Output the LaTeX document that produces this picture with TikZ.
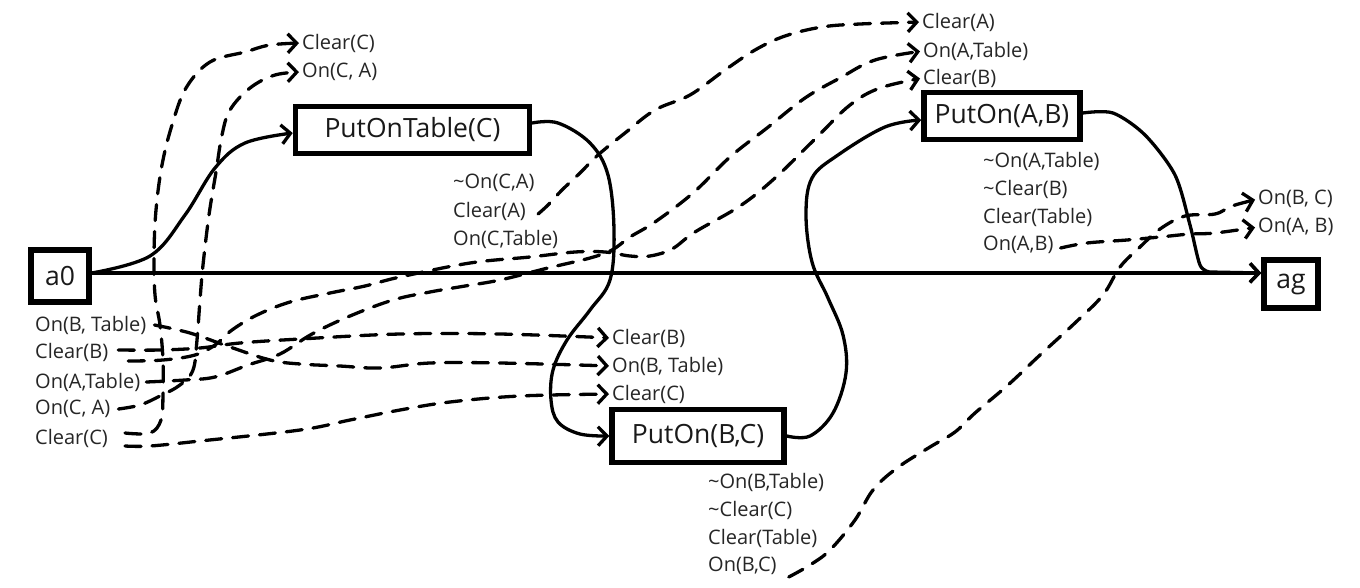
\documentclass[tikz,border=0pt]{standalone}
\usepackage{fontspec}
\setmainfont{Open Sans}
\usetikzlibrary{arrows.meta}
\tikzset{
  box/.style={draw, line width=5.5pt, inner sep=0pt, font=\fontsize{26.5}{30}\selectfont, text=black!90},
  lbl/.style={anchor=west, inner sep=0pt, font=\fontsize{20}{24}\selectfont, text=black!85},
  link/.style={line width=3.3pt, line cap=round, line join=round, -{Straight Barb[length=9pt,width=19pt,line width=3.3pt]}},
  dep/.style={link, dash pattern=on 16pt off 11pt, shorten >=3pt},
}
\begin{document}
\begin{tikzpicture}[x=1pt,y=-1pt]
\useasboundingbox[fill=white] (0,0) rectangle (1360,587);
\coordinate (mainy) at (0,273);
% action boxes
\node[box, minimum width=58pt, minimum height=52pt] (a0) at (60,276) {a0};
\node[box, minimum width=234pt, minimum height=47pt] (ptable) at (412.5,130) {PutOnTable(C)};
\node[box, minimum width=172pt, minimum height=53pt] (pbc) at (698,436) {PutOn(B,C)};
\node[box, minimum width=156pt, minimum height=47pt] (pab) at (1002,116) {PutOn(A,B)};
\node[box, minimum width=54pt, minimum height=48pt] (ag) at (1291,284) {ag};
% a0 effects
\node[lbl] (a0onBT) at (35,325) {On(B, Table)};
\node[lbl] (a0clrB) at (35,352) {Clear(B)};
\node[lbl] (a0onAT) at (35,382) {On(A,Table)};
\node[lbl] (a0onCA) at (35,409) {On(C, A)};
\node[lbl] (a0clrC) at (35,438) {Clear(C)};
% PutOnTable(C) preconditions / effects
\node[lbl] (tclrC) at (302,43) {Clear(C)};
\node[lbl] (tonCA) at (302,72) {On(C, A)};
\node[lbl] (ponCA) at (453,183) {\textasciitilde On(C,A)};
\node[lbl] (pclrA) at (453,211) {Clear(A)};
\node[lbl] (ponCT) at (453,239) {On(C,Table)};
% PutOn(A,B) preconditions / effects
\node[lbl] (tclrA) at (922,22) {Clear(A)};
\node[lbl] (tonAT) at (923,51) {On(A,Table)};
\node[lbl] (tclrB) at (923,78) {Clear(B)};
\node[lbl] (pabonAT) at (983,161) {\textasciitilde On(A,Table)};
\node[lbl] (pabclrB) at (983,189) {\textasciitilde Clear(B)};
\node[lbl] (pabclrT) at (983,217) {Clear(Table)};
\node[lbl] (pabonAB) at (983,245) {On(A,B)};
% PutOn(B,C) preconditions / effects
\node[lbl] (bcclrB) at (612,338) {Clear(B)};
\node[lbl] (bconBT) at (612,366) {On(B, Table)};
\node[lbl] (bcclrC) at (612,394) {Clear(C)};
\node[lbl] (bcnonBT) at (708,482) {\textasciitilde On(B,Table)};
\node[lbl] (bcnclrC) at (708,510) {\textasciitilde Clear(C)};
\node[lbl] (bcclrT) at (708,538) {Clear(Table)};
\node[lbl] (bconBC) at (708,566) {On(B,C)};
% goal preconditions
\node[lbl] (ronBC) at (1258,199) {On(B, C)};
\node[lbl] (ronAB) at (1258,227) {On(A, B)};
% solid connectors
\draw[link] (a0.east |- mainy) -- (ag.west |- mainy);
\draw[link] plot[smooth,tension=0.6] coordinates {(a0.east |- mainy) (150,256) (185,215) (215,168) (245,143) ([yshift=-3pt]ptable.west)};
\draw[link] plot[smooth,tension=0.6] coordinates {([yshift=7pt]ptable.east) (558,123) (590,143) (608,175) (614,230) (610,280) (590,310) (567,340) (553,370) (551,400) (558,422) (580,434) (pbc.west)};
\draw[link] plot[smooth,tension=0.6] coordinates {(pbc.east) (810,436) (833,413) (846,373) (843,335) (828,298) (812,262) (806,215) (812,178) (838,155) (885,127) ([yshift=-4pt]pab.west)};
\draw[link] plot[smooth,tension=0.5] coordinates {([yshift=3pt]pab.east) (1113,113) (1145,135) (1175,175) (1190,225) (1200,265) (1210,272)} -- (ag.west |- mainy);
% dashed connectors
\draw[dep] plot[smooth,tension=0.6] coordinates {([xshift=17pt,yshift=5pt]a0clrC.east) (150,433) (161,420) (163,395) (163,360) (160,325) (155,295) (154,255) (156,210) (162,165) (172,125) (186,88) (210,62) (245,52) (270,45) (tclrC.west)};
\draw[dep] plot[smooth,tension=0.6] coordinates {([xshift=17pt,yshift=-8pt]a0clrC.east) (150,446) (200,441) (300,430) (350,420) (400,410) (450,402) (520,396) (bcclrC.west)};
\draw[dep] plot[smooth,tension=0.6] coordinates {([xshift=8pt]a0onCA.east) (140,405) (160,396) (180,385) (193,370) (197,340) (200,300) (203,265) (209,215) (216,172) (222,135) (230,110) (250,88) (275,75) (tonCA.west)};
\draw[dep] plot[smooth,tension=0.6] coordinates {([xshift=8pt]a0onBT.east) (190,333) (230,347) (270,360) (300,364) (340,366) (380,368) (430,363) (500,363) (bconBT.west)};
\draw[dep] plot[smooth,tension=0.6] coordinates {([xshift=10pt,yshift=2pt]a0clrB.east) (160,350) (200,348) (240,343) (300,339) (400,334) (500,334) (bcclrB.west)};
\draw[dep] plot[smooth,tension=0.6] coordinates {([xshift=20pt,yshift=-9pt]a0clrB.east) (163,360) (195,355) (215,345) (232,330) (257,315) (290,302) (330,293) (365,286) (400,277) (470,263) (530,257) (575,252) (605,252) (630,256) (650,256) (672,249) (695,232) (740,206) (775,178) (817,137) (850,105) (880,88) (tclrB.west)};
\draw[dep] plot[smooth,tension=0.6] coordinates {([xshift=6pt]a0onAT.east) (185,380) (215,377) (248,365) (280,354) (312,334) (350,316) (393,300) (430,292) (465,286) (500,280) (548,268) (590,258) (612,250) (630,237) (655,222) (693,193) (730,157) (767,128) (805,98) (840,78) (875,60) (tonAT.west)};
\draw[dep] plot[smooth,tension=0.6] coordinates {([xshift=12pt,yshift=-3pt]pclrA.east) (548,205) (562,190) (580,173) (598,155) (625,133) (655,110) (690,95) (725,70) (755,50) (785,36) (822,27) (860,24) (tclrA.west)};
\draw[dep] plot[smooth,tension=0.6] coordinates {([xshift=12pt,yshift=-11pt]bconBC.east) (810,565) (830,550) (855,520) (873,490) (897,468) (930,447) (955,432) (975,413) (1008,385) (1040,355) (1076,322) (1103,295) (1120,267) (1140,247) (1160,229) (1185,216) (1215,214) (1232,206) (ronBC.west)};
\draw[dep] plot[smooth,tension=0.6] coordinates {([xshift=7pt,yshift=-3pt]pabonAB.east) (1087,243) (1127,240) (1160,237) (1190,234) (1215,233) (ronAB.west)};
\end{tikzpicture}
\end{document}
